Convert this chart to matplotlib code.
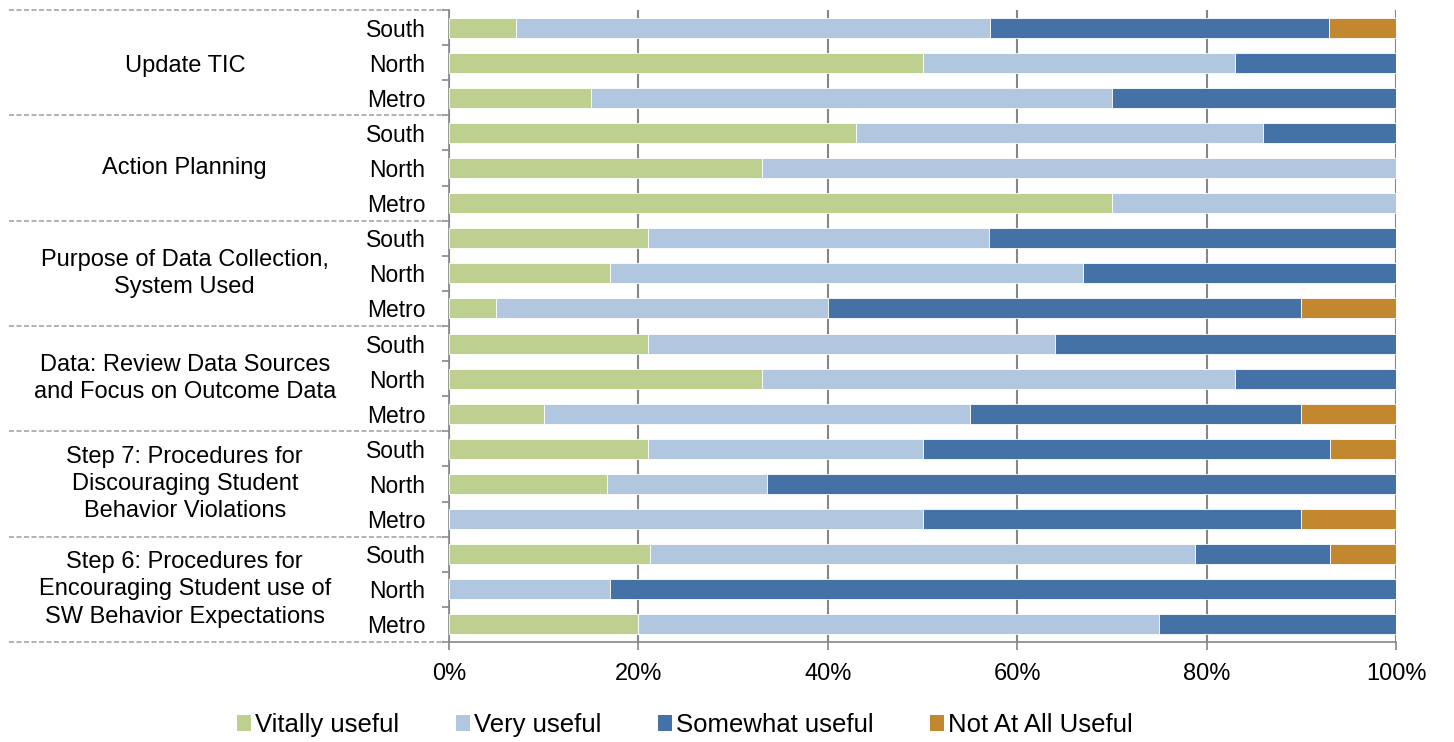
import numpy as np
import matplotlib.pyplot as plt
import matplotlib.transforms as mtransforms
from matplotlib.patches import Patch

plt.rcParams['font.family'] = ['Liberation Sans', 'DejaVu Sans']

# topics, top to bottom; each has three regions
groups = ["Update TIC", "Action Planning", "Purpose of Data Collection,\nSystem Used",
          "Data: Review Data Sources\nand Focus on Outcome Data",
          "Step 7: Procedures for\nDiscouraging Student\nBehavior Violations",
          "Step 6: Procedures for\nEncouraging Student use of\nSW Behavior Expectations"]
regions = ["South", "North", "Metro"]

# percent of respondents per row (same top-to-bottom order)
vitally = [7.1, 50, 15,   43, 33, 70,   21, 17, 5,    21, 33, 10,   21, 16.7, 0,    21.2, 0, 20]
very = [50, 33, 55,   43, 67, 30,   36, 50, 35,   43, 50, 45,   29, 16.9, 50,   57.6, 17, 55]
somewhat = [35.8, 17, 30,   14, 0, 0,   43, 33, 50,   36, 17, 35,   43, 66.4, 40,   14.2, 83, 25]
not_at_all = [7.1, 0, 0,   0, 0, 0,   0, 0, 10,   0, 0, 10,   7, 0, 10,   7, 0, 0]

series = [("Vitally useful", vitally, "#BDD08F"),
          ("Very useful", very, "#B1C6DF"),
          ("Somewhat useful", somewhat, "#4472A6"),
          ("Not At All Useful", not_at_all, "#C2872F")]

n_rows = len(groups) * len(regions)
y = np.arange(n_rows)
row_labels = regions * len(groups)

fig = plt.figure(figsize=(14.54, 7.42), dpi=100)
ax = fig.add_axes([449 / 1454, 100 / 742, 947 / 1454, 632 / 742])

left = np.zeros(n_rows)
for name, vals, color in series:
    vals = np.array(vals, dtype=float)
    ax.barh(y, vals, left=left, height=0.57, color=color, edgecolor="white",
            linewidth=0.6, label=name, zorder=3)
    left += vals

ax.set_xlim(0, 100)
ax.set_ylim(n_rows - 0.5, -0.5)
ax.set_xticks(np.arange(0, 101, 20))
ax.set_xticklabels([f"{v}%" for v in range(0, 101, 20)], fontsize=17)
ax.xaxis.grid(True, color="#868686", linewidth=1.5, zorder=0)
ax.tick_params(axis="x", length=6, width=1.2, color="#868686", pad=9)

ax.set_yticks(y)
ax.set_yticklabels(row_labels, fontsize=16.5)
ax.set_yticks(np.arange(n_rows + 1) - 0.5, minor=True)
ax.tick_params(axis="y", which="major", length=0, pad=17)
ax.tick_params(axis="y", which="minor", length=5, width=1.2, color="#868686")

for side in ["top", "right"]:
    ax.spines[side].set_visible(False)
for side in ["left", "bottom"]:
    ax.spines[side].set_color("#868686")
    ax.spines[side].set_linewidth(1.2)

# topic labels and dashed separators to the left of the axis
trans = mtransforms.blended_transform_factory(ax.transAxes, ax.transData)
for i, g in enumerate(groups):
    ax.text(-0.279, 3 * i + 1 + (0.1 if i == 0 else 0), g, transform=trans,
            ha="center", va="center", fontsize=17, linespacing=1.32)
for b in np.arange(0, n_rows + 1, 3) - 0.5:
    ax.plot([-0.465, 0], [b, b], transform=trans, color="#A6A6A6",
            linestyle=(0, (3, 1.5)), linewidth=1.2, clip_on=False)

handles = [Patch(facecolor=c, edgecolor="none", label=n) for n, _, c in series]
fig.legend(handles=handles, loc="center", bbox_to_anchor=(685 / 1454, 1 - 725 / 742),
           ncol=4, frameon=False, fontsize=18.5, handlelength=0.55, handleheight=0.55,
           handletextpad=0.15, columnspacing=2.2)

fig.savefig("out.png", dpi=100)
